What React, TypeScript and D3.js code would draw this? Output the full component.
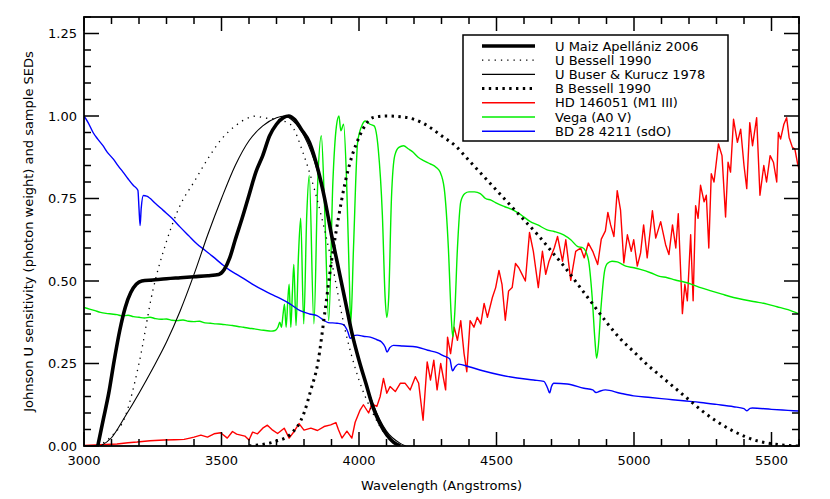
import React from "react"
import * as d3 from "d3"

// wavelength (Angstrom), normalised value
const uMaiz: [number, number][] = [
  [3050, 0], [3070, 0.08], [3090, 0.16], [3110, 0.26], [3130, 0.35], [3150, 0.42],
  [3170, 0.465], [3190, 0.49], [3210, 0.5], [3250, 0.503], [3300, 0.507], [3350, 0.51],
  [3400, 0.513], [3450, 0.516], [3490, 0.52], [3510, 0.535], [3530, 0.57], [3550, 0.625],
  [3575, 0.69], [3600, 0.76], [3625, 0.83], [3650, 0.88], [3675, 0.94], [3700, 0.975],
  [3725, 0.995], [3745, 1.0], [3765, 0.99], [3790, 0.96], [3820, 0.92], [3850, 0.84],
  [3875, 0.75], [3900, 0.64], [3925, 0.54], [3950, 0.44], [3975, 0.34], [4000, 0.26],
  [4025, 0.19], [4050, 0.12], [4075, 0.07], [4100, 0.035], [4125, 0.012], [4150, 0],
]

const uBessell: [number, number][] = [
  [3050, 0], [3100, 0.03], [3150, 0.09], [3200, 0.25], [3250, 0.47], [3300, 0.62],
  [3350, 0.73], [3400, 0.8], [3450, 0.87], [3500, 0.93], [3550, 0.97], [3600, 0.995],
  [3625, 1.0], [3650, 0.995], [3700, 0.99], [3750, 0.975], [3800, 0.88], [3850, 0.74],
  [3900, 0.56], [3950, 0.35], [4000, 0.2], [4050, 0.1], [4100, 0.03], [4150, 0],
]

const uBuser: [number, number][] = [
  [3060, 0], [3100, 0.025], [3150, 0.09], [3200, 0.16], [3250, 0.235], [3300, 0.315],
  [3350, 0.41], [3400, 0.52], [3450, 0.64], [3500, 0.75], [3550, 0.85], [3600, 0.925],
  [3650, 0.97], [3700, 0.995], [3730, 1.0], [3760, 0.985], [3800, 0.94], [3850, 0.83],
  [3900, 0.65], [3950, 0.44], [4000, 0.265], [4050, 0.13], [4100, 0.045], [4150, 0.008],
  [4170, 0],
]

const bBessell: [number, number][] = [
  [3600, 0], [3700, 0.015], [3750, 0.035], [3800, 0.1], [3825, 0.17], [3850, 0.25],
  [3875, 0.4], [3900, 0.56], [3925, 0.69], [3950, 0.8], [3975, 0.88], [4000, 0.935],
  [4025, 0.975], [4050, 0.995], [4100, 1.0], [4150, 0.998], [4200, 0.99], [4250, 0.97],
  [4300, 0.94], [4350, 0.91], [4400, 0.865], [4450, 0.82], [4500, 0.775], [4550, 0.73],
  [4600, 0.685], [4650, 0.64], [4700, 0.59], [4750, 0.54], [4800, 0.485], [4850, 0.43],
  [4900, 0.375], [4950, 0.325], [5000, 0.285], [5050, 0.245], [5100, 0.21], [5150, 0.175],
  [5200, 0.14], [5250, 0.105], [5300, 0.075], [5350, 0.05], [5400, 0.03], [5450, 0.015],
  [5500, 0.007], [5550, 0.002], [5600, 0],
]

const hd146051: [number, number][] = [
  [3000, 0.002], [3060, 0.004], [3120, 0.006], [3160, 0.01], [3193, 0.012], [3240, 0.016],
  [3291, 0.018], [3330, 0.019], [3364, 0.02], [3385, 0.024], [3400, 0.027], [3425, 0.033],
  [3449, 0.027], [3473, 0.037], [3497, 0.04], [3521, 0.024], [3540, 0.044], [3555, 0.036],
  [3570, 0.033], [3585, 0.03], [3600, 0.018], [3613, 0.042], [3631, 0.037], [3650, 0.054],
  [3667, 0.063], [3686, 0.048], [3704, 0.038], [3728, 0.054], [3746, 0.024], [3764, 0.044],
  [3782, 0.068], [3800, 0.048], [3825, 0.054], [3849, 0.047], [3873, 0.059], [3897, 0.064],
  [3916, 0.071], [3925, 0.05], [3938, 0.024], [3956, 0.045], [3974, 0.024], [3986, 0.072],
  [4004, 0.109], [4016, 0.125], [4035, 0.1], [4047, 0.128], [4065, 0.12], [4077, 0.15],
  [4089, 0.205], [4101, 0.16], [4113, 0.18], [4132, 0.165], [4150, 0.19], [4168, 0.19],
  [4186, 0.17], [4205, 0.21], [4217, 0.19], [4233, 0.078], [4248, 0.255], [4260, 0.2],
  [4272, 0.26], [4284, 0.17], [4297, 0.25], [4315, 0.17], [4322, 0.33], [4333, 0.28],
  [4346, 0.36], [4358, 0.32], [4370, 0.38], [4382, 0.28], [4392, 0.225], [4404, 0.38],
  [4418, 0.36], [4430, 0.39], [4443, 0.37], [4455, 0.432], [4467, 0.39], [4485, 0.45],
  [4497, 0.48], [4509, 0.532], [4520, 0.49], [4532, 0.381], [4544, 0.47], [4557, 0.48],
  [4569, 0.553], [4581, 0.54], [4593, 0.52], [4605, 0.5], [4620, 0.647], [4634, 0.59],
  [4652, 0.48], [4667, 0.59], [4679, 0.52], [4691, 0.56], [4710, 0.6], [4722, 0.635],
  [4740, 0.56], [4752, 0.625], [4770, 0.502], [4788, 0.59], [4806, 0.6], [4819, 0.57],
  [4834, 0.615], [4850, 0.59], [4868, 0.55], [4881, 0.627], [4896, 0.652], [4905, 0.708],
  [4915, 0.67], [4927, 0.635], [4939, 0.774], [4951, 0.715], [4963, 0.555], [4976, 0.64],
  [4990, 0.59], [4999, 0.625], [5012, 0.545], [5024, 0.585], [5035, 0.67], [5048, 0.57],
  [5067, 0.713], [5079, 0.63], [5097, 0.68], [5115, 0.61], [5127, 0.58], [5140, 0.67],
  [5152, 0.6], [5161, 0.704], [5176, 0.401], [5185, 0.49], [5194, 0.44], [5206, 0.64],
  [5215, 0.44], [5224, 0.728], [5233, 0.69], [5242, 0.79], [5255, 0.74], [5263, 0.76],
  [5272, 0.6], [5281, 0.825], [5291, 0.8], [5307, 0.915], [5320, 0.88], [5333, 0.694],
  [5342, 0.86], [5351, 0.83], [5362, 0.99], [5376, 0.92], [5388, 0.96], [5400, 0.85],
  [5410, 0.78], [5421, 0.98], [5431, 0.91], [5446, 0.995], [5458, 0.76], [5472, 0.85],
  [5482, 0.8], [5495, 0.88], [5507, 0.86], [5519, 0.8], [5525, 0.95], [5533, 0.93],
  [5545, 0.975], [5555, 0.995], [5564, 0.935], [5576, 0.905], [5585, 0.9], [5595, 0.855],
  [5600, 0.84],
]

const vega: [number, number][] = [
  [3000, 0.42], [3020, 0.415], [3040, 0.41], [3060, 0.405], [3080, 0.402], [3100, 0.4],
  [3120, 0.398], [3140, 0.394], [3160, 0.396], [3180, 0.392], [3200, 0.39], [3220, 0.388],
  [3240, 0.39], [3260, 0.386], [3280, 0.384], [3300, 0.385], [3320, 0.381], [3340, 0.38],
  [3360, 0.382], [3380, 0.378], [3400, 0.377], [3420, 0.378], [3440, 0.373], [3460, 0.372],
  [3480, 0.37], [3500, 0.369], [3520, 0.367], [3540, 0.365], [3560, 0.362], [3580, 0.36],
  [3600, 0.357], [3620, 0.355], [3640, 0.352], [3660, 0.35], [3680, 0.348], [3695, 0.35],
  [3705, 0.36], [3712, 0.375], [3718, 0.36], [3724, 0.4], [3729, 0.43], [3735, 0.36],
  [3741, 0.44], [3746, 0.49], [3752, 0.36], [3758, 0.47], [3763, 0.55], [3771, 0.365],
  [3780, 0.58], [3788, 0.69], [3799, 0.37], [3810, 0.7], [3819, 0.82], [3836, 0.37],
  [3850, 0.8], [3863, 0.94], [3875, 0.72], [3890, 0.38], [3905, 0.8], [3918, 0.97],
  [3927, 1.0], [3934, 0.955], [3944, 0.975], [3955, 0.8], [3965, 0.5], [3970, 0.37],
  [3980, 0.6], [3995, 0.92], [4010, 0.97], [4023, 0.985], [4040, 0.975], [4055, 0.97],
  [4070, 0.9], [4085, 0.7], [4095, 0.45], [4101, 0.39], [4108, 0.45], [4118, 0.75],
  [4130, 0.88], [4145, 0.905], [4162, 0.91], [4180, 0.9], [4197, 0.89], [4215, 0.875],
  [4235, 0.865], [4259, 0.855], [4280, 0.845], [4295, 0.83], [4310, 0.78], [4325, 0.6],
  [4335, 0.4], [4341, 0.33], [4348, 0.4], [4358, 0.6], [4370, 0.74], [4385, 0.765],
  [4400, 0.77], [4420, 0.77], [4441, 0.765], [4460, 0.75], [4480, 0.745], [4502, 0.735],
  [4530, 0.725], [4561, 0.715], [4590, 0.7], [4623, 0.68], [4650, 0.67], [4684, 0.655],
  [4710, 0.65], [4744, 0.64], [4770, 0.625], [4794, 0.605], [4815, 0.6], [4834, 0.565],
  [4848, 0.45], [4858, 0.32], [4864, 0.266], [4870, 0.3], [4880, 0.42], [4893, 0.53],
  [4903, 0.553], [4920, 0.56], [4939, 0.558], [4970, 0.545], [5000, 0.54], [5023, 0.535],
  [5060, 0.525], [5090, 0.515], [5121, 0.51], [5150, 0.503], [5182, 0.497], [5210, 0.49],
  [5242, 0.48], [5280, 0.47], [5320, 0.46], [5362, 0.45], [5400, 0.443], [5440, 0.437],
  [5484, 0.43], [5520, 0.422], [5560, 0.413], [5600, 0.4],
]

const bd284211: [number, number][] = [
  [3000, 1.0], [3015, 0.98], [3033, 0.95], [3050, 0.93], [3069, 0.91], [3085, 0.89],
  [3106, 0.87], [3125, 0.848], [3142, 0.83], [3160, 0.81], [3179, 0.79], [3196, 0.775],
  [3200, 0.72], [3204, 0.668], [3208, 0.72], [3216, 0.759], [3228, 0.757], [3260, 0.735],
  [3288, 0.714], [3320, 0.69], [3349, 0.664], [3380, 0.638], [3410, 0.613], [3440, 0.593],
  [3470, 0.573], [3500, 0.552], [3531, 0.532], [3560, 0.518], [3591, 0.502], [3620, 0.487],
  [3652, 0.472], [3680, 0.46], [3713, 0.447], [3750, 0.43], [3786, 0.41], [3820, 0.4],
  [3847, 0.395], [3870, 0.382], [3888, 0.374], [3920, 0.372], [3943, 0.368], [3960, 0.345],
  [3968, 0.326], [3980, 0.334], [3993, 0.336], [4020, 0.332], [4041, 0.33], [4065, 0.322],
  [4082, 0.315], [4095, 0.3], [4102, 0.285], [4112, 0.298], [4125, 0.305], [4160, 0.303],
  [4210, 0.3], [4250, 0.29], [4284, 0.283], [4310, 0.272], [4330, 0.264], [4340, 0.228],
  [4350, 0.24], [4362, 0.248], [4400, 0.24], [4450, 0.228], [4514, 0.215], [4575, 0.206],
  [4635, 0.2], [4672, 0.196], [4686, 0.175], [4693, 0.161], [4700, 0.18], [4708, 0.19],
  [4757, 0.188], [4818, 0.175], [4850, 0.17], [4862, 0.162], [4875, 0.166], [4896, 0.17],
  [4950, 0.16], [4999, 0.152], [5060, 0.147], [5120, 0.142], [5180, 0.137], [5242, 0.132],
  [5300, 0.126], [5362, 0.119], [5400, 0.113], [5411, 0.107], [5422, 0.114], [5430, 0.115],
  [5500, 0.111], [5560, 0.108], [5600, 0.106],
]

const xTickLabels = [3000, 3500, 4000, 4500, 5000, 5500]
const yTickLabels = [0, 0.25, 0.5, 0.75, 1.0, 1.25]

const legendLabels = [
  "U Maiz Apellániz 2006",
  "U Bessell 1990",
  "U Buser & Kurucz 1978",
  "B Bessell 1990",
  "HD 146051 (M1 III)",
  "Vega (A0 V)",
  "BD 28 4211 (sdO)",
]

const W = 830
const H = 499
const left = 84
const right = 799
const top = 17
const bottom = 446
const font = "DejaVu Sans, sans-serif"

export default function App() {
  const x = d3.scaleLinear().domain([3000, 5600]).range([left, right])
  const y = d3.scaleLinear().domain([0, 1.3]).range([bottom, top])
  const smooth = d3
    .line<[number, number]>()
    .x((d) => x(d[0]))
    .y((d) => y(d[1]))
    .curve(d3.curveMonotoneX)
  const jagged = d3
    .line<[number, number]>()
    .x((d) => x(d[0]))
    .y((d) => y(d[1]))

  const series = [
    { data: hd146051, gen: jagged, stroke: "#ff0000", width: 1.4, dash: "none" },
    { data: vega, gen: smooth, stroke: "#00ee00", width: 1.4, dash: "none" },
    { data: bd284211, gen: smooth, stroke: "#0000ff", width: 1.4, dash: "none" },
    { data: uBessell, gen: smooth, stroke: "#000", width: 1.3, dash: "1.3,5" },
    { data: uBuser, gen: smooth, stroke: "#000", width: 1.1, dash: "none" },
    { data: bBessell, gen: smooth, stroke: "#000", width: 3, dash: "2.4,4.4" },
    { data: uMaiz, gen: smooth, stroke: "#000", width: 3.6, dash: "none" },
  ]
  const legendStyles = [
    { stroke: "#000", width: 3.6, dash: "none" },
    { stroke: "#000", width: 1.3, dash: "1.3,5" },
    { stroke: "#000", width: 1.1, dash: "none" },
    { stroke: "#000", width: 3, dash: "2.4,4.4" },
    { stroke: "#ff0000", width: 1.4, dash: "none" },
    { stroke: "#00ee00", width: 1.4, dash: "none" },
    { stroke: "#0000ff", width: 1.4, dash: "none" },
  ]

  const xMinor = d3.range(3000, 5601, 100)
  const yMinor = d3.range(0, 1.301, 0.05)

  return (
    <svg
      width={W}
      height={H}
      style={{ position: "absolute", left: 0, top: 0, background: "#fff" }}
      fontFamily={font}
      fontSize={13}
    >
      <defs>
        <clipPath id="plot">
          <rect x={left} y={top} width={right - left} height={bottom - top} />
        </clipPath>
      </defs>

      <g clipPath="url(#plot)" fill="none">
        {series.map((s, i) => (
          <path
            key={i}
            d={s.gen(s.data) || ""}
            stroke={s.stroke}
            strokeWidth={s.width}
            strokeDasharray={s.dash}
            strokeLinejoin="round"
          />
        ))}
      </g>

      {/* ticks on all four sides */}
      <g stroke="#000" strokeWidth={1.5}>
        {xMinor.map((v) => {
          const major = Math.round(v) % 500 === 0
          const len = major ? 14 : 7
          return (
            <g key={"x" + v}>
              <line x1={x(v)} x2={x(v)} y1={bottom} y2={bottom - len} />
              <line x1={x(v)} x2={x(v)} y1={top} y2={top + len} />
            </g>
          )
        })}
        {yMinor.map((v, i) => {
          const major = i % 5 === 0
          const len = major ? 15 : 7
          return (
            <g key={"y" + i}>
              <line x1={left} x2={left + len} y1={y(v)} y2={y(v)} />
              <line x1={right} x2={right - len} y1={y(v)} y2={y(v)} />
            </g>
          )
        })}
      </g>
      <rect
        x={left}
        y={top}
        width={right - left}
        height={bottom - top}
        fill="none"
        stroke="#000"
        strokeWidth={1.8}
      />

      {xTickLabels.map((v) => (
        <text key={v} x={x(v)} y={465} textAnchor="middle">
          {v}
        </text>
      ))}
      {yTickLabels.map((v) => (
        <text key={v} x={77} y={y(v)} dy="0.36em" textAnchor="end">
          {v.toFixed(2)}
        </text>
      ))}

      <text x={(left + right) / 2} y={490} textAnchor="middle">
        Wavelength (Angstroms)
      </text>
      <text
        transform={`translate(33, ${(top + bottom) / 2}) rotate(-90)`}
        textAnchor="middle"
      >
        Johnson U sensitivity (photon weight) and sample SEDs
      </text>

      {/* legend */}
      <g>
        <rect x={463} y={35} width={265} height={106} fill="#fff" stroke="#000" strokeWidth={1.5} />
        {legendLabels.map((label, i) => {
          const ly = 46 + i * 14.2
          const st = legendStyles[i]
          return (
            <g key={label}>
              <line
                x1={482}
                x2={535}
                y1={ly}
                y2={ly}
                stroke={st.stroke}
                strokeWidth={st.width}
                strokeDasharray={st.dash}
              />
              <text x={555} y={ly} dy="0.36em">
                {label}
              </text>
            </g>
          )
        })}
      </g>
    </svg>
  )
}
